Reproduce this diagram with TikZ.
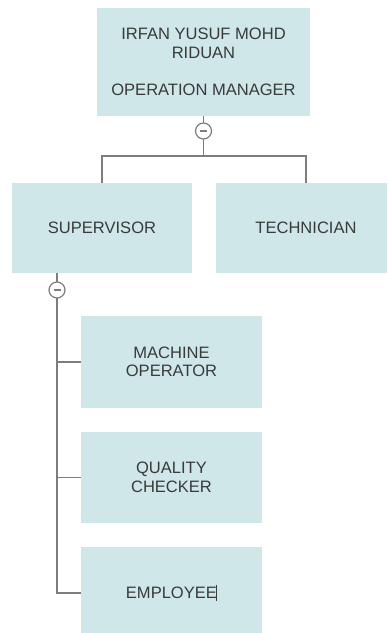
\documentclass[tikz,border=0pt]{standalone}
\usepackage{fontspec}
\setmainfont{Liberation Sans}
\definecolor{boxfill}{RGB}{207,231,233}
\definecolor{linegray}{RGB}{125,125,125}
\definecolor{textgray}{RGB}{58,58,58}
\tikzset{
  orgbox/.style={rectangle, fill=boxfill, draw=none, inner sep=0pt, outer sep=0pt,
    align=center, text=textgray, font=\fontsize{12.4}{13.9}\selectfont},
  toggle/.style={circle, draw=linegray, fill=white, line width=0.9pt, minimum size=12pt, inner sep=0pt, outer sep=0pt},
  conn/.style={draw=linegray, line width=0.9pt}
}
\begin{document}
\begin{tikzpicture}[x=0.75pt,y=-0.75pt]
\useasboundingbox (0,0) rectangle (387,633);
\begin{scope}
\clip (0,0) rectangle (387,633);
\node[orgbox, minimum width=159.75pt, minimum height=81pt] (top) at (203.5,62) {IRFAN YUSUF MOHD\\RIDUAN\\[13.9pt]OPERATION MANAGER};
\node[orgbox, minimum width=135pt, minimum height=67.5pt] (sup) at (102,228) {SUPERVISOR};
\node[orgbox, minimum width=135pt, minimum height=67.5pt] (tech) at (306,228) {TECHNICIAN};
\node[orgbox, minimum width=135.75pt, minimum height=69pt] (mach) at (171.5,362) {MACHINE\\OPERATOR};
\node[orgbox, minimum width=135.75pt, minimum height=68.25pt] (qual) at (171.5,477.5) {QUALITY\\CHECKER};
\node[orgbox, minimum width=135.75pt, minimum height=69pt] (emp) at (171.5,593) {EMPLOYEE\hspace{-0.6pt}\rule[-1.6pt]{0.7pt}{11.8pt}};

\coordinate (j1) at (203.5,156);
\node[toggle] (c1) at (203.5,131) {};
\node[toggle] (c2) at (57,290) {};

\draw[conn] (top.south) -- (c1);
\draw[conn] (c1) -- (j1);
\draw[conn] (sup.north) |- (j1) -| (tech.north);
\draw[conn] (c2 |- sup.south) -- (c2);
\draw[conn] (c2) -- (c2 |- emp.west) -- (emp.west);
\draw[conn] (c2 |- mach.west) -- (mach.west);
\draw[conn] (c2 |- qual.west) -- (qual.west);

\draw[conn] (c1.center) +(-3.5,0) -- +(3.5,0);
\draw[conn] (c2.center) +(-3.5,0) -- +(3.5,0);
\end{scope}
\end{tikzpicture}
\end{document}
